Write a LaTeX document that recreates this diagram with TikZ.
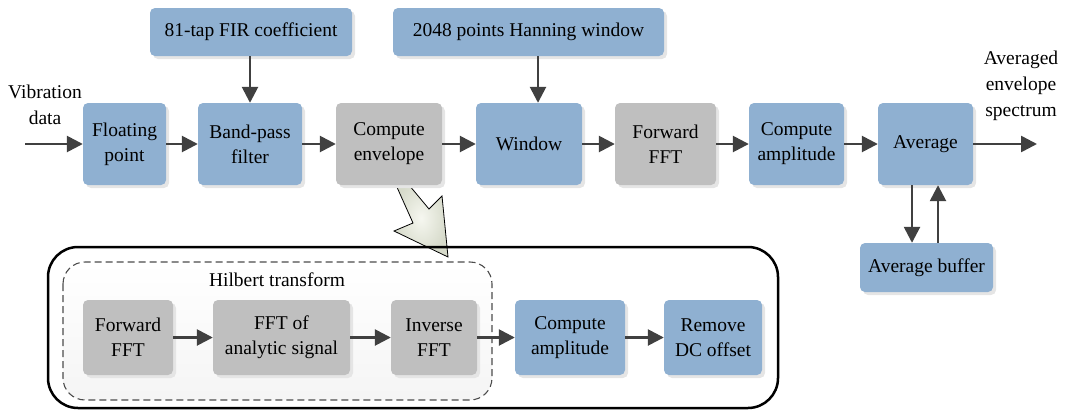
\documentclass[tikz,border=0pt]{standalone}
\usepackage{fontspec}
\setmainfont{Liberation Serif}
\usetikzlibrary{arrows.meta,shadows,calc}
\definecolor{boxblue}{RGB}{143,176,209}
\definecolor{boxgray}{RGB}{191,191,191}
\definecolor{arrowgray}{RGB}{64,64,64}
\definecolor{bigarrowin}{RGB}{246,247,240}
\definecolor{bigarrowout}{RGB}{214,218,202}
\tikzset{
  blk/.style={rounded corners=5pt, align=center, inner sep=2pt,
    font=\fontsize{19.5}{25}\selectfont,
    drop shadow={shadow xshift=3pt, shadow yshift=-3pt, fill=black!10, opacity=1}},
  bluebox/.style={blk, fill=boxblue},
  graybox/.style={blk, fill=boxgray},
  flow/.style={draw=arrowgray, line width=2.6pt, -{Triangle[length=16pt,width=16pt]}},
  lbl/.style={align=center, inner sep=0pt, font=\fontsize{19.5}{26}\selectfont},
}
\begin{document}
\begin{tikzpicture}[x=1pt,y=-1pt]
\useasboundingbox (0,0) rectangle (1083,410);

% big hollow arrow (drawn below the outer frame)
\draw[line width=0.8pt, inner color=bigarrowin, outer color=bigarrowout]
  (396,185) -- (404,179) -- (429,209) -- (442,196) -- (448,257) -- (394,231) -- (413,223) -- cycle;

% outer frame and dashed Hilbert group
\draw[line width=2.5pt, rounded corners=30pt] (48,247) rectangle (778,408);
\draw[draw=black!70, line width=1.1pt, dash pattern=on 7pt off 4pt, rounded corners=22pt,
  top color=white, bottom color=black!4] (63,262) rectangle (492,400);
\node[lbl] (hil) at (277,280) {Hilbert transform};

% top parameter boxes
\node[bluebox, minimum width=202pt, minimum height=48pt] (fir) at (251,32) {81-tap FIR coefficient};
\node[bluebox, minimum width=271pt, minimum height=48pt] (han) at (528.5,32) {2048 points Hanning window};

% main row
\node[bluebox, minimum width=83pt,  minimum height=82pt] (fp)   at (124.5,144) {Floating\\point};
\node[bluebox, minimum width=104pt, minimum height=82pt] (bp)   at (250,144)   {Band-pass\\filter};
\node[graybox, minimum width=106pt, minimum height=82pt] (ce)   at (389,144)   {Compute\\envelope};
\node[bluebox, minimum width=106pt, minimum height=82pt] (win)  at (529,144)   {Window};
\node[graybox, minimum width=101pt, minimum height=82pt] (ffft) at (665.5,144) {Forward\\FFT};
\node[bluebox, minimum width=95pt,  minimum height=82pt] (ca)   at (796.5,144) {Compute\\amplitude};
\node[bluebox, minimum width=95pt,  minimum height=82pt] (avg)  at (925.5,144) {Average};
\node[bluebox, minimum width=133pt, minimum height=49pt] (buf)  at (926.5,267.5) {Average buffer};

% bottom row
\node[graybox, minimum width=90pt,  minimum height=75pt] (f2)  at (128,337.5)   {Forward\\FFT};
\node[graybox, minimum width=137pt, minimum height=75pt] (fa)  at (281.5,337.5) {FFT of\\analytic signal};
\node[graybox, minimum width=86pt,  minimum height=75pt] (inv) at (434,337.5)   {Inverse\\FFT};
\node[bluebox, minimum width=110pt, minimum height=75pt] (ca2) at (570,337.5)   {Compute\\amplitude};
\node[bluebox, minimum width=98pt,  minimum height=75pt] (dc)  at (713,337.5)   {Remove\\DC offset};

% free labels
\node[lbl] (vib) at (45,105) {Vibration\\data};
\node[lbl] (out) at (1021,86) {Averaged\\envelope\\spectrum};
\coordinate (in) at (25,144);
\coordinate (outend) at (1037,144);

% connectors
\draw[flow] (in) -- (fp.west);
\draw[flow] (fp) -- (bp);
\draw[flow] (bp) -- (ce);
\draw[flow] (ce) -- (win);
\draw[flow] (win) -- (ffft);
\draw[flow] (ffft) -- (ca);
\draw[flow] (ca) -- (avg);
\draw[flow] (avg.east) -- (outend);
\draw[flow] (bp.north |- fir.south) -- (bp.north);
\draw[flow] ($(han.south)+(9.5,0)$) -- ($(win.north)+(9,0)$);
\draw[flow] ($(avg.south)+(-13.5,0)$) -- ($(buf.north)+(-14.5,0)$);
\draw[flow] ($(buf.north)+(11.5,0)$) -- ($(avg.south)+(12.5,0)$);
\draw[flow] (f2) -- (fa);
\draw[flow] (fa) -- (inv);
\draw[flow] (inv) -- (ca2);
\draw[flow] (ca2) -- (dc);
\end{tikzpicture}
\end{document}
